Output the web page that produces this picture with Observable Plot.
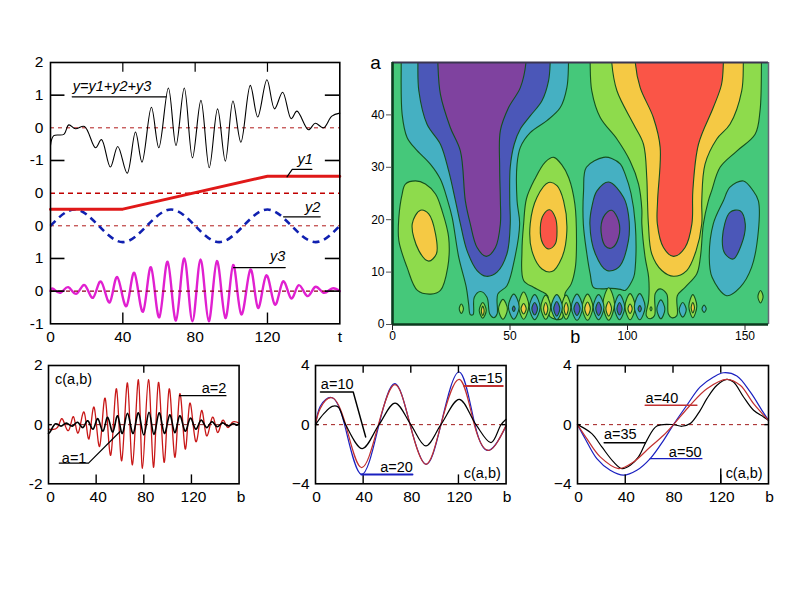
<!DOCTYPE html>
<html><head><meta charset="utf-8">
<script src="https://cdn.jsdelivr.net/npm/d3@7"></script>
<script src="https://cdn.jsdelivr.net/npm/@observablehq/plot@0.6"></script>
<style>
html,body{margin:0;padding:0;background:#fff}
#page{position:relative;width:800px;height:600px;overflow:hidden}
#page svg{position:absolute;background:transparent;overflow:visible}
</style></head><body><div id="page"></div>
<script>
// ---------- top-left panel: signals (stack levels: y3 at 1, y2 at 3, y1 at 4, y at 6)
const stackLabels = ["-1","0","1","0","0","-1","0","1","2"];
const tTicks = [0,40,80,120,160];
const tLabels = ["0","40","80","120","t"];
const bLabels = ["0","40","80","120","b"];

const sumT = [0,1.8,7.4,10.1,13.8,18.8,24.9,28.2,33.1,37.2,42.4,47,50.6,55.8,59.9,65.2,69.4,74,78.5,83.2,87.8,92.4,96.7,100.9,105.3,110.5,114.6,119.7,123.9,128.4,133.1,136.3,142.7,146.4,151,155.6,160];
const sumV = [-.54,-.24,-.2,.09,-.03,.04,-.61,-.36,-1.2,-.57,-1.39,-.13,-1.05,.63,-.61,1.22,-.54,1.22,-.92,.84,-1.22,.58,-1.02,.82,-.44,1.3,.33,1.47,.58,1.09,.28,.51,-.06,.14,0,.36,.45];
const y1T = [0,40,120,160];
const y1V = [-.49,-.49,.52,.52];
const y2T = [0,13.3,26.7,40,53.3,66.7,80,93.3,106.7,120,133.3,146.7,160];
const y2V = [0,.5,0,-.5,0,.5,0,-.5,0,.5,0,-.5,0];
const y3T = [0,1.5,5.5,9.8,14.4,19,23.6,28,32.8,37,42,46.4,51.2,55.6,60.2,64.8,69.4,74,78.5,83,87.5,92,96.7,101,105.5,110.5,114.7,119.3,124,128.5,133,137.2,142,146.4,151,155.6,160];
const y3V = [0,.07,-.05,.12,-.08,.18,-.2,.29,-.34,.43,-.46,.56,-.63,.73,-.8,.9,-.9,1,-.92,.97,-.92,.92,-.82,.8,-.71,.66,-.51,.48,-.41,.29,-.22,.18,-.15,.13,-.05,.08,0];

// ---------- bottom-left panel
const a2B = [0,7.6,11.7,16.8,21,25,29.9,34,38.3,43,47.6,52.3,57.1,61.5,66.3,70.5,75.5,78.9,83.9,88.1,92.3,97,101.3,106,110.2,114.7,118.6,123.6,128.4,132.6,137.6,141.8,146,150.2,154.4,160];
const a2V = [-.15,-.09,.19,-.2,.27,-.28,.42,-.48,.59,-.73,.89,-1.03,1.21,-1.22,1.41,-1.36,1.52,-1.48,1.52,-1.44,1.43,-1.27,1.21,-1.1,1.04,-.82,.72,-.57,.47,-.37,.25,-.26,.14,-.09,.08,.05];
const a1B = [0,2,6,10.5,15,20,24.5,29,33,37.5,41.5,45.8,49.7,54,58,62,66.3,71,75.5,80,84.4,88.5,92.9,97.3,101.8,106,110.2,114.7,119,123.5,128,132.6,137,141.5,146,150.5,155,158,160];
const a1V = [-.3,-.2,.03,-.05,.05,-.05,.08,-.1,.13,-.15,.2,-.22,.25,-.25,.3,-.3,.38,-.3,.4,-.35,.42,-.33,.4,-.3,.33,-.27,.3,-.22,.22,-.15,.15,-.1,.1,-.07,.06,-.04,.03,-.02,.03];

// ---------- bottom-middle panel
const a10B = [0,7,14,19,25.3,39.3,53.3,66.8,80,92.6,105.3,120.7,134.7,147.4,155.8,160];
const a10V = [0,.74,1.24,1.2,0,-1.62,0,1.46,0,-1.44,0,1.71,0,-1.22,0,.36];
const a15B = [0,4,14,25.3,38.5,52.8,66.8,79.4,92.6,105.3,120.7,133.3,146,160];
const a15V = [0,1.1,1.82,0,-2.9,0,2.7,0,-2.68,0,3.06,0,-1.73,-.05];
const a20B = [0,4,14,24.4,38.5,53.3,66.8,79.4,92.6,105.3,120.7,133.8,146,160];
const a20V = [0,1.25,1.82,0,-3.36,0,2.77,0,-2.68,0,3.56,0,-1.73,-.1];

// ---------- bottom-right panel
const a35B = [0,12,20.4,30.2,37.2,44.2,51.1,58.1,66.5,80.4,87.4,94.4,102.8,108.4,116.8,125.1,130.7,139.1,147.5,155.9,160];
const a35V = [0,-.61,-1.51,-2.52,-2.97,-2.75,-2.18,-1.06,-.09,0,-.11,.07,.97,1.76,2.66,3.06,2.88,1.87,.97,.52,.29];
const a40B = [0,7.8,19,34.4,46.9,60.9,72.1,80.4,94.4,108.4,125.1,136.3,147.5,160];
const a40V = [0,-.95,-2.18,-2.97,-2.52,-1.51,-.72,0,1.31,2.43,3.06,2.66,1.42,.29];
const a50B = [0,6.4,16.2,27.4,38.5,49.7,60.9,72.1,80.4,91.6,102.8,114,122.3,133.5,144.7,154.5,160];
const a50V = [0,-.95,-2.3,-3.09,-3.42,-3.09,-2.3,-1.06,0,1.31,2.55,3.22,3.51,3.29,2.21,.97,.29];

// ---------- contour regions, as [b, a] outlines
const tealLeft = [[3.7,53],[3.7,50],[4.1,40.1],[6.2,35.7],[9.8,33.5],[16.1,30.6],[20.4,27.7],[23.5,23.6],[25.4,20.4],[28.2,12.8],[31.4,7.1],[32.4,3.9],[33.1,1.9],[34.3,1.9],[34.8,5.2],[37.4,6.3],[40.2,5.2],[41.4,2],[43.1,1.3],[44.5,2],[44.8,5.8],[48.7,7.4],[51.8,12.2],[54.1,19.2],[53,23.6],[53,30.6],[54.4,33.8],[58.6,36.6],[65.7,38.9],[71.4,41.4],[74.2,45.2],[74.9,50],[74.9,53]];
const blueLeft = [[10.8,53],[10.8,50],[11.2,44.6],[14.7,38.2],[20.4,34.4],[23.9,29.3],[26.8,23.6],[28.9,19.2],[31.7,14.1],[36,10.3],[39.9,9.2],[44.5,10],[48.7,13.5],[50.1,19.2],[49.9,23.6],[50.1,30],[51.8,34.4],[54.4,37.3],[58.6,39.8],[63.6,42.7],[66.4,46.5],[67.1,50],[67.1,53]];
const purpleLeft = [[19.3,53],[19.3,50],[20.4,43.9],[24.6,37.6],[28.9,33.1],[31,23.6],[33.1,19.2],[36,14.7],[39.9,13],[43.8,14.7],[45.9,19.2],[45.9,23.6],[45.6,30],[45.9,37],[49.4,41.4],[54.4,45.2],[56.8,50],[56.8,53]];
const limeRight = [[84.1,53],[84.1,50],[84.8,44.6],[88.4,39.5],[95.5,35.4],[101.1,31.2],[104.7,26.8],[106.1,22],[106.1,19.2],[107.5,12.8],[109,9],[109,4.6],[108,1.7],[109.6,1.1],[111.5,1.7],[111.8,5.9],[113.9,6.8],[116.7,5.8],[117.4,2],[118.8,1.3],[121,1.7],[121.2,5.5],[124.5,7.1],[129.5,9.7],[131,12.8],[132.3,19.2],[134.4,23.6],[135.8,25.5],[139.4,30],[146.5,33.1],[154.3,36.3],[156.4,40.8],[157,50],[157,53]];
const yellowRight = [[93.3,53],[93.3,50],[95.5,44.6],[102.6,38.2],[106.8,34.4],[108.2,28],[108.5,23.6],[108.9,19.2],[110.3,13.5],[114.6,10.3],[119.6,9.2],[125.2,10.3],[129.2,14.1],[131.6,19.2],[131.6,23.6],[133,30.6],[138,35.4],[143.6,38.2],[148.6,44.6],[149.3,50],[149.3,53]];
const redRight = [[103.3,53],[103.3,50],[105.4,45.2],[111,39.5],[113.9,33.8],[112.8,23.6],[112.7,19.2],[115.3,14.7],[119.6,13],[124.5,14.7],[127.4,19.2],[127.8,25.5],[130.2,34.4],[136.5,41.4],[140,45.8],[140.8,50],[140.8,53]];
const limeBlobA = [[2.7,20.4],[2.7,16],[6.2,10.9],[10.6,6.5],[16.3,5.8],[20.4,6.5],[23.5,10.9],[23.9,16.6],[21.1,21.7],[18.3,24.9],[14,26.8],[9.8,27.4],[5.5,26.8],[4.1,24.9]];
const yellowBlobA = [[8.4,19.2],[11.9,21.8],[15.4,21.1],[18.3,17.3],[18.7,13.5],[15.4,12.1],[11.2,14.1]];
const limeBlobB = [[55.8,19.2],[55.1,14.1],[55.8,8.4],[60,7.1],[63,6.4],[66,5.5],[67,1.5],[72,1.1],[73.5,6],[76,7.7],[77.8,10.9],[78.3,16],[77.6,23],[75,28],[72,30.5],[68.6,31.9],[65,31],[60.5,27.7],[57,24]];
const yellowBlobB = [[58.6,19.2],[59.3,14.1],[63.6,10.6],[67.8,10.1],[72.1,12.8],[74.2,17.9],[72.8,23.6],[70,26.5],[66.4,27.1],[61.5,24.3]];
const redBlobB = [[62.9,18.5],[64.3,21],[66.9,21.9],[69.3,20.4],[70,17.9],[69.3,15.4],[66.5,14.4],[64,15.4]];
const tealBlobC = [[89.8,31.9],[82.5,30],[81.3,25.5],[81.2,19.2],[82.7,13.5],[84.1,9.7],[85.5,7.1],[89,6.8],[93,6.9],[97,6.7],[99,6.5],[102.6,9],[103.3,10.9],[103.3,19.2],[101.5,25],[99,28.7],[97,30.6],[93.3,31.7]];
const blueBlobC = [[84,19.2],[86.3,13.5],[91.2,10.3],[96.2,10.9],[100.4,16],[100.4,21],[98.3,24.3],[92,27.2],[87,25.5],[84.9,22.6]];
const purpleBlobC = [[88.7,18.5],[90.5,21],[93.3,21.8],[96.2,19.8],[96.2,16.6],[93.3,14.6],[90.5,15]];
const tealBlobD = [[149.3,27.4],[143.6,26.2],[140.8,23.6],[136.5,19.2],[134.8,12.8],[136,9],[142.2,5.5],[147.9,7.1],[152.8,10.9],[155.7,17.9],[155.7,23.6],[153.5,25.5]];
const blueBlobD = [[140.4,16.6],[143.6,21.4],[147.9,21.7],[150.1,19.2],[148.6,15.4],[145,12.5],[141.5,13.5]];

// small cells along the bottom: [b, a, half width, half height]
const limeCells = [[29.3,3,.9,.9],[38.4,2.7,1.5,1.5],[47,2.9,1.9,1.9],[55.8,3.6,2.2,2.6],[65.2,3.3,2.1,2.3],[73.9,3.3,2,2.3],[83,3.3,2.3,2.5],[92,3.9,2.5,3.1],[101.1,3.4,2.2,2.5],[127.8,3.5,1.7,2.2],[156.6,5.3,1.1,1.2],[110,3,.4,.4]];
const tealCells = [[51.6,3.4,2.3,2.4],[60.5,3.3,2.3,2.4],[69.9,3.3,2.4,2.4],[78.5,3.3,2.4,2.5],[87.7,3.3,2.3,2.4],[96.6,3.3,2.2,2.4],[105.2,3.4,2.3,2.5],[114.2,2.9,1.7,1.8],[123.5,2.8,1.5,1.4],[132.6,3,.9,.7]];
const blueCells = [[51.6,3,.6,.5],[60.5,3,1.2,1.2],[69.9,3,1.3,1.4],[78.5,3,1.3,1.3],[87.7,3,1.2,1.3],[96.6,3,1.1,1.2],[105.2,3,.7,.6]];
const yellowCells = [[55.8,3,1.1,1],[65.2,3,.9,1.2],[73.9,3,.9,1.2],[83,3,1.2,1.3],[92,3,1.2,1.4],[101.1,3,.9,.9],[127.8,3.2,.7,1],[38.4,2.6,.6,.9]];

// ---------- helpers
const zip = (xs, ys) => xs.map((x, i) => ({x, v: ys[i]}));
const FONT = "'Liberation Sans', Arial, sans-serif";
const page = document.getElementById("page");
function place(options, box) {
  // box = inner frame in page pixels
  const pad = {l: 48, r: 18, t: 14, b: 26};
  const svg = Plot.plot({
    ...options,
    width: box.w + pad.l + pad.r, height: box.h + pad.t + pad.b,
    marginLeft: pad.l, marginRight: pad.r, marginTop: pad.t, marginBottom: pad.b,
    style: {fontFamily: FONT, fontSize: (options.fs || 15.5) + "px", color: "#000", background: "transparent", overflow: "visible"}
  });
  svg.style.left = (box.x - pad.l) + "px";
  svg.style.top = (box.y - pad.t) + "px";
  page.appendChild(svg);
}
const leader = (pts, stroke = "#000", strokeWidth = 1.2) =>
  Plot.line(pts, {x: d => d[0], y: d => d[1], stroke, strokeWidth, curve: "linear"});
const note = (x, y, text, extra = {}) =>
  Plot.text([text], {x: () => x, y: () => y, text: d => d, fontSize: 14.5, fill: "#000", ...extra});
const xAxis = (labels, pad = 8, dx = 0) => Plot.axisX({ticks: tTicks, tickFormat: v => labels[tTicks.indexOf(v)], tickSize: 0, tickPadding: pad, dx, label: null});

// ---------- signals panel
const lvl = base => d => d.v + base;
place({
  x: {domain: [0, 160]}, y: {domain: [0, 8]},
  marks: [
    Plot.axisY({ticks: d3.range(9), tickFormat: i => stackLabels[i], tickSize: 0, tickPadding: 7, label: null}),
    xAxis(tLabels, 7),
    Plot.ruleY([6], {stroke: "#b01818", strokeWidth: 1, strokeDasharray: "4,4"}),
    Plot.ruleY([4], {stroke: "#c00000", strokeWidth: 1.5, strokeDasharray: "5,4"}),
    Plot.ruleY([3], {stroke: "#b01818", strokeWidth: 1, strokeDasharray: "4,4"}),
    Plot.line(zip(y3T, y3V), {x: "x", y: lvl(1), stroke: "#e020d0", strokeWidth: 2.4, curve: "natural"}),
    Plot.ruleY([1], {stroke: "#8a0018", strokeWidth: 1.2, strokeDasharray: "4,4"}),
    Plot.line(zip(y2T, y2V), {x: "x", y: lvl(3), stroke: "#1020b0", strokeWidth: 2.6, strokeDasharray: "7,5", strokeLinecap: "butt", curve: "natural"}),
    Plot.line(zip(y1T, y1V), {x: "x", y: lvl(4), stroke: "#e01818", strokeWidth: 3, curve: "linear"}),
    Plot.line(zip(sumT, sumV), {x: "x", y: lvl(6), stroke: "#000", strokeWidth: 1.1, curve: "catmull-rom"}),
    Plot.ruleY([1,2,5,7], {x1: 0, x2: 8, stroke: "#000", strokeWidth: 1.6}),
    Plot.ruleY([1,2,5,7], {x1: 152, x2: 160, stroke: "#000", strokeWidth: 1.6}),
    Plot.ruleX([40,120], {y1: 0, y2: .33, stroke: "#000", strokeWidth: 1.4}),
    Plot.ruleX([40,80,120], {y1: 7.7, y2: 8, stroke: "#000", strokeWidth: 1.2}),
    Plot.frame({stroke: "#000", strokeWidth: 1.6}),
    leader([[12,6.95],[64,6.95]]),
    note(34, 7.26, "y=y1+y2+y3", {fontStyle: "italic"}),
    leader([[130.8,4.5],[133.7,4.73],[144.6,4.73]]),
    note(140.9, 5.02, "y1", {fontStyle: "italic"}),
    leader([[128.9,3.275],[149.2,3.275]]),
    note(145, 3.58, "y2", {fontStyle: "italic"}),
    leader([[101.3,1.72],[129.8,1.72]], "#000", 1.4),
    note(125.6, 2.08, "y3", {fontStyle: "italic"})
  ]
}, {x: 50, y: 61.7, w: 289.3, h: 261.3});

// ---------- contour panel
const GREEN = "#45c87a", LIME = "#8edb4c", YELLOW = "#f5c944", RED = "#fa5547", TEAL = "#45b0c2", BLUE = "#4b57b8", PURPLE = "#7f429f";
const EDGE = "#14501e";
const region = (pts, fill) => Plot.line(pts, {x: d => d[0], y: d => d[1], fill, stroke: EDGE, strokeWidth: 1.1, curve: "catmull-rom-closed", clip: true});
const cellOutline = c => [[c[0]-c[2],c[1]],[c[0],c[1]+c[3]],[c[0]+c[2],c[1]],[c[0],c[1]-c[3]]];
const cellMarks = (cells, fill) => cells.map(c => region(cellOutline(c), fill));
place({
  fs: 12,
  x: {domain: [0, 160]}, y: {domain: [0, 50]},
  marks: [
    Plot.frame({fill: GREEN, stroke: null}),
    region(limeRight, LIME), region(yellowRight, YELLOW), region(redRight, RED),
    region(tealLeft, TEAL), region(blueLeft, BLUE), region(purpleLeft, PURPLE),
    region(limeBlobA, LIME), region(yellowBlobA, YELLOW),
    region(limeBlobB, LIME), region(yellowBlobB, YELLOW), region(redBlobB, RED),
    region(tealBlobC, TEAL), region(blueBlobC, BLUE), region(purpleBlobC, PURPLE),
    region(tealBlobD, TEAL), region(blueBlobD, BLUE),
    ...cellMarks(limeCells, LIME), ...cellMarks(tealCells, TEAL),
    ...cellMarks(blueCells, BLUE), ...cellMarks(yellowCells, YELLOW),
    Plot.ruleY([50], {stroke: "#3a3550", strokeWidth: 2}),
    Plot.ruleX([160], {stroke: "#667", strokeWidth: 1.5}),
    Plot.ruleX([0], {stroke: "#0b3a1e", strokeWidth: 2.6}),
    Plot.ruleY([0], {stroke: "#0b3a1e", strokeWidth: 2.6}),
    Plot.axisY({ticks: [0,10,20,30,40], tickSize: 6, tickPadding: 2, stroke: "#555", label: null}),
    Plot.axisX({ticks: [0,50,100,150], tickSize: 6, tickPadding: 1, stroke: "#222", label: null}),
    Plot.text(["a"], {x: () => -7.2, y: () => 50, text: d => d, fontSize: 19}),
    Plot.text(["b"], {x: () => 77.8, y: () => -2.4, text: d => d, fontSize: 18})
  ]
}, {x: 392, y: 62, w: 376, h: 262});

// ---------- small panels
const smallFrame = {w: 190.6, h: 118.3, y: 365};
function smallAxes(vmax, labels, dx) {
  return [
    Plot.axisY({ticks: [-vmax,0,vmax], tickFormat: v => labels[[-vmax,0,vmax].indexOf(v)], tickSize: 0, tickPadding: 6, label: null}),
    xAxis(bLabels, 7, dx)
  ];
}
const edgeTicks = (vmax, bottom, top) => [
  Plot.ruleX(bottom, {y1: -vmax, y2: -vmax * .85, stroke: "#000", strokeWidth: 1.4}),
  Plot.ruleX(top, {y1: vmax * .87, y2: vmax, stroke: "#000", strokeWidth: 1.4}),
  Plot.ruleY([0], {x1: 0, x2: 3, stroke: "#000", strokeWidth: 1.4}),
  Plot.ruleY([0], {x1: 157, x2: 160, stroke: "#000", strokeWidth: 1.4})
];

place({
  x: {domain: [0, 160]}, y: {domain: [-2, 2]},
  marks: [
    ...smallAxes(2, ["-2","0","2"], 2),
    Plot.ruleY([0], {stroke: "#8a1a1a", strokeWidth: 1, strokeDasharray: "4,4"}),
    Plot.line(zip(a2B, a2V), {x: "x", y: "v", stroke: "#c81818", strokeWidth: 1.3, curve: "natural"}),
    Plot.line(zip(a1B, a1V), {x: "x", y: "v", stroke: "#000", strokeWidth: 1.6, curve: "natural"}),
    ...edgeTicks(2, [40,80,120], [80]),
    Plot.frame({stroke: "#000", strokeWidth: 1.6}),
    leader([[110,.98],[149,.98]]),
    note(139, 1.22, "a=2"),
    leader([[9,-1.3],[33.6,-1.3],[59.9,-.24]]),
    note(21.5, -1.15, "a=1"),
    note(21, 1.52, "c(a,b)")
  ]
}, {x: 47.7, ...smallFrame});

place({
  x: {domain: [0, 160]}, y: {domain: [-4, 4]},
  marks: [
    ...smallAxes(4, ["−4","0","4"], 1),
    Plot.ruleY([0], {stroke: "#a01818", strokeWidth: 1, strokeDasharray: "4,4"}),
    Plot.line(zip(a20B, a20V), {x: "x", y: "v", stroke: "#1a20c0", strokeWidth: 1.2, curve: "natural"}),
    Plot.line(zip(a15B, a15V), {x: "x", y: "v", stroke: "#c03030", strokeWidth: 1.2, curve: "natural"}),
    Plot.line(zip(a10B, a10V), {x: "x", y: "v", stroke: "#000", strokeWidth: 1.2, curve: "catmull-rom"}),
    ...edgeTicks(4, [40,120], [40,80,120]),
    Plot.frame({stroke: "#000", strokeWidth: 1.6}),
    leader([[4.2,2.2],[31.7,2.2],[42.1,-.83]], "#000", 1.5),
    note(18.2, 2.7, "a=10"),
    leader([[124.9,2.61],[157.2,2.61]], "#c03030", 2),
    note(143.4, 3.13, "a=15"),
    leader([[38.5,-3.38],[81.4,-3.38]], "#1a20c0", 2),
    note(68, -2.88, "a=20"),
    note(140, -3.3, "c(a,b)")
  ]
}, {x: 315, ...smallFrame});

place({
  x: {domain: [0, 160]}, y: {domain: [-4, 4]},
  marks: [
    ...smallAxes(4, ["−4","0","4"], 1),
    Plot.ruleY([0], {stroke: "#a01818", strokeWidth: 1, strokeDasharray: "4,4"}),
    Plot.line(zip(a50B, a50V), {x: "x", y: "v", stroke: "#1a20c0", strokeWidth: 1.2, curve: "catmull-rom"}),
    Plot.line(zip(a35B, a35V), {x: "x", y: "v", stroke: "#000", strokeWidth: 1.2, curve: "catmull-rom"}),
    Plot.line(zip(a40B, a40V), {x: "x", y: "v", stroke: "#c03030", strokeWidth: 1.2, curve: "catmull-rom"}),
    ...edgeTicks(4, [40,120], [40,80,120]),
    Plot.ruleX([120], {y1: -4, y2: -3, stroke: "#000", strokeWidth: 1.4}),
    Plot.frame({stroke: "#000", strokeWidth: 1.6}),
    leader([[56.7,1.31],[100,1.31]], "#c03030", 1.5),
    note(70.7, 1.78, "a=40"),
    leader([[22.3,-1.22],[56.7,-1.22]], "#000", 1.4),
    note(35.8, -.68, "a=35"),
    leader([[60.9,-2.3],[104.2,-2.3]], "#1a20c0", 1.4),
    note(90.2, -1.87, "a=50"),
    note(139.6, -3.3, "c(a,b)")
  ]
}, {x: 577.3, w: 191, h: 118.3, y: 365});
</script></body></html>
